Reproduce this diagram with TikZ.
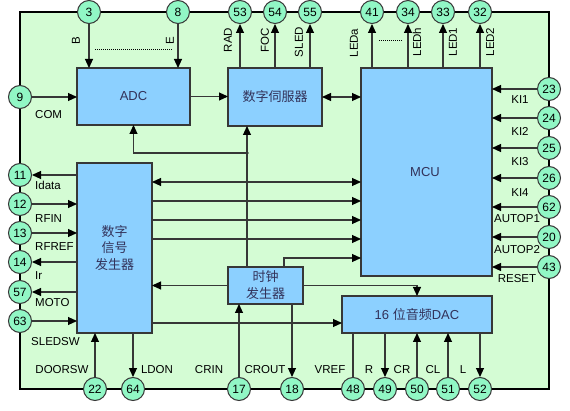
\documentclass[tikz,border=0pt]{standalone}
\usepackage{fontspec}
\setmainfont{Liberation Sans}
\newfontfamily\cjk{Noto Sans CJK SC}
\usetikzlibrary{arrows.meta}
\definecolor{bggreen}{RGB}{212,252,212}
\definecolor{boxblue}{RGB}{140,208,255}
\definecolor{pinfill}{RGB}{145,247,197}
\definecolor{linegray}{RGB}{55,55,55}
\definecolor{boxtext}{RGB}{50,50,90}
\tikzset{
  pin/.style={circle,draw=linegray,line width=1pt,fill=pinfill,minimum size=23pt,inner sep=0pt,font=\fontsize{12}{12}\selectfont},
  blk/.style={draw=linegray,line width=1.1pt,fill=boxblue,inner sep=0pt,outer sep=0pt,text=boxtext,font=\fontsize{13}{16.5}\selectfont,align=center},
  lbl/.style={font=\fontsize{11.5}{12}\selectfont,inner sep=0pt},
  vlbl/.style={lbl,rotate=90},
  conn/.style={draw=linegray,line width=1.1pt},
  tip/.tip={Triangle[length=9pt,width=8pt,fill=black,color=black]},
  arr/.style={conn,-tip},
  darr/.style={conn,tip-tip},
}
\begin{document}
\begin{tikzpicture}[x=1pt,y=-1pt]
\useasboundingbox (0,0) rectangle (570,411);
\fill[white] (0,0) rectangle (570,411);
\draw[line width=1.5pt,fill=bggreen] (20,12) rectangle (549,389);

% blocks
\node[blk,minimum width=113pt,minimum height=57pt] (adc) at (133.5,96.5) {ADC};
\node[blk,minimum width=94pt,minimum height=58pt] (servo) at (275,97) {\cjk 数字伺服器};
\node[blk,minimum width=131pt,minimum height=208pt] (mcu) at (426.5,172) {};
\node[lbl,font=\fontsize{13}{13}\selectfont,text=boxtext] (mcutxt) at (425,172) {MCU};
\node[blk,minimum width=75pt,minimum height=170pt] (sig) at (114.5,248) {\cjk 数字\\\cjk 信号\\\cjk 发生器};
\node[blk,minimum width=75pt,minimum height=37pt,font=\fontsize{13}{17}\selectfont] (clk) at (265.5,285.5) {\cjk 时钟\\\cjk 发生器};
\node[blk,minimum width=150pt,minimum height=37pt] (dac) at (417,314.5) {16 {\cjk 位音频}DAC};

% pins top
\node[pin] (c3) at (89,12) {3};
\node[pin] (c8) at (178,12) {8};
\node[pin] (c53) at (240,12) {53};
\node[pin] (c54) at (275,12) {54};
\node[pin] (c55) at (310,12) {55};
\node[pin] (c41) at (372,12) {41};
\node[pin] (c34) at (408,12) {34};
\node[pin] (c33) at (443,12) {33};
\node[pin] (c32) at (480,12) {32};
% pins right
\node[pin] (c23) at (549,89) {23};
\node[pin] (c24) at (549,118) {24};
\node[pin] (c25) at (549,148) {25};
\node[pin] (c26) at (549,178) {26};
\node[pin] (c62) at (549,207) {62};
\node[pin] (c20) at (549,237) {20};
\node[pin] (c43) at (549,267) {43};
% pins left
\node[pin] (c9) at (20,97) {9};
\node[pin] (c11) at (20,175) {11};
\node[pin] (c12) at (20,204) {12};
\node[pin] (c13) at (20,233) {13};
\node[pin] (c14) at (20,262) {14};
\node[pin] (c57) at (20,292) {57};
\node[pin] (c63) at (20,321) {63};
% pins bottom
\node[pin] (c22) at (95,389) {22};
\node[pin] (c64) at (133,389) {64};
\node[pin] (c17) at (239,389) {17};
\node[pin] (c18) at (292,389) {18};
\node[pin] (c48) at (353,389) {48};
\node[pin] (c49) at (385,389) {49};
\node[pin] (c50) at (417,389) {50};
\node[pin] (c51) at (448,389) {51};
\node[pin] (c52) at (480,389) {52};

% helper coordinates
\coordinate (j) at (247,153);
\coordinate (h182) at (0,182);
\coordinate (h201) at (0,201);
\coordinate (h220) at (0,220);
\coordinate (h239) at (0,239);
\coordinate (k) at (284,258);
\coordinate (h323) at (0,323);

% top connections
\draw[arr] (c3.south) -- (c3.south |- adc.north);
\draw[arr] (c8.south) -- (c8.south |- adc.north);
\draw[arr] (servo.north -| c53) -- (c53.south);
\draw[arr] (servo.north -| c54) -- (c54.south);
\draw[arr] (servo.north -| c55) -- (c55.south);
\draw[arr] (mcu.north -| c41) -- (c41.south);
\draw[arr] (mcu.north -| c34) -- (c34.south);
\draw[arr] (mcu.north -| c33) -- (c33.south);
\draw[arr] (mcu.north -| c32) -- (c32.south);
\draw[line width=0.8pt,dash pattern=on 1pt off 1pt] (95,49) -- (172,49);
\draw[line width=0.8pt,dash pattern=on 1pt off 1pt] (379,40) -- (402,40);

% block interconnections
\draw[arr] (c9.east) -- (c9 -| adc.west);
\draw[arr] (adc.east) -- (adc.east -| servo.west);
\draw[darr] (servo.east) -- (servo.east -| mcu.west);
\draw[arr] (clk.north -| j) -- (j |- servo.south);
\draw[arr] (j) -| (adc.south);
\fill[linegray] (j) circle (1.8pt);
\draw[darr] (sig.east |- h182) -- (mcu.west |- h182);
\draw[arr] (sig.east |- h201) -- (mcu.west |- h201);
\draw[arr] (sig.east |- h220) -- (mcu.west |- h220);
\draw[arr] (sig.east |- h239) -- (mcu.west |- h239);
\draw[arr] (clk.north -| k) |- (mcu.west |- k);
\draw[arr] (clk.west) -- (clk.west -| sig.east);
\draw[arr] (clk.east) -| (dac.north);
\draw[arr] (sig.east |- h323) -- (dac.west |- h323);

% right connections
\foreach \p in {23,24,25,26,62,20,43}{
  \draw[arr] (c\p.west) -- (c\p.west -| mcu.east);
}
% left connections
\draw[arr] (c11 -| sig.west) -- (c11.east);
\draw[arr] (c12.east) -- (c12 -| sig.west);
\draw[arr] (c13.east) -- (c13 -| sig.west);
\draw[arr] (c14 -| sig.west) -- (c14.east);
\draw[arr] (c57 -| sig.west) -- (c57.east);
\draw[arr] (c63.east) -- (c63 -| sig.west);
% bottom connections
\draw[arr] (c22.north) -- (c22 |- sig.south);
\draw[arr] (sig.south -| c64) -- (c64.north);
\draw[arr] (c17.north) -- (c17 |- clk.south);
\draw[arr] (clk.south -| c18) -- (c18.north);
\draw[conn] (dac.south -| c48) -- (c48.north);
\draw[arr] (dac.south -| c49) -- (c49.north);
\draw[arr] (c50.north) -- (c50 |- dac.south);
\draw[arr] (c51.north) -- (c51 |- dac.south);
\draw[arr] (dac.south -| c52) -- (c52.north);

% labels
\node[vlbl] (lB) at (76,41) {B};
\node[vlbl] (lE) at (170,41) {E};
\node[vlbl] (lRAD) at (228,40) {RAD};
\node[vlbl] (lFOC) at (265,40) {FOC};
\node[vlbl] (lSLED) at (299,42) {SLED};
\node[vlbl] (lLEDa) at (354,43) {LEDa};
\node[vlbl] (lLEDh) at (417,42) {LEDh};
\node[vlbl] (lLED1) at (453,42) {LED1};
\node[vlbl] (lLED2) at (490,42) {LED2};

\node[lbl,anchor=west] (lCOM) at (35,115) {COM};
\node[lbl,anchor=west] (lIdata) at (35,185) {Idata};
\node[lbl,anchor=west] (lRFIN) at (35,219) {RFIN};
\node[lbl,anchor=west] (lRFREF) at (35,247) {RFREF};
\node[lbl,anchor=west] (lIr) at (35,276) {Ir};
\node[lbl,anchor=west] (lMOTO) at (35,303) {MOTO};
\node[lbl,anchor=west] (lSLEDSW) at (31,342) {SLEDSW};

\node[lbl] (lKI1) at (520,100) {KI1};
\node[lbl] (lKI2) at (520,131) {KI2};
\node[lbl] (lKI3) at (520,162) {KI3};
\node[lbl] (lKI4) at (520,193) {KI4};
\node[lbl] (lA1) at (517,219) {AUTOP1};
\node[lbl] (lA2) at (517,250) {AUTOP2};
\node[lbl] (lRESET) at (517,279) {RESET};

\node[lbl] (lDOORSW) at (62,370) {DOORSW};
\node[lbl] (lLDON) at (157,370) {LDON};
\node[lbl] (lCRIN) at (209,370) {CRIN};
\node[lbl] (lCROUT) at (265,370) {CROUT};
\node[lbl] (lVREF) at (330,370) {VREF};
\node[lbl] (lR) at (369,370) {R};
\node[lbl] (lCR) at (402,370) {CR};
\node[lbl] (lCL) at (433,370) {CL};
\node[lbl] (lL) at (463,370) {L};
\end{tikzpicture}
\end{document}
